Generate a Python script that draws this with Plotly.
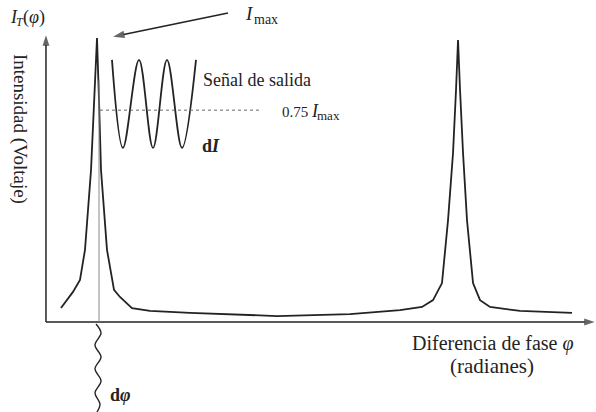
import plotly.graph_objects as go

# ---- data (phase in radians, intensity normalised to I_max) ----
phase = [-0.627, -0.418, -0.296, -0.209, -0.104, -0.052, 0.0, 0.035, 0.070, 0.174, 0.244,
         0.296, 0.400, 0.609, 0.922, 1.619, 3.133, 4.403, 5.273, 5.656, 5.848, 6.004,
         6.109, 6.196, 6.248, 6.283, 6.318, 6.370, 6.439, 6.544, 6.666, 6.840, 7.362, 8.267]
intensity = [0.049, 0.106, 0.148, 0.254, 0.535, 0.782, 1.0, 0.782, 0.535, 0.254, 0.165,
             0.113, 0.088, 0.049, 0.039, 0.032, 0.021, 0.028, 0.042, 0.053, 0.077, 0.137,
             0.359, 0.595, 0.817, 0.993, 0.817, 0.595, 0.359, 0.137, 0.077, 0.053, 0.039, 0.032]

# output signal (inset)
signal_x = [0.261, 0.452, 0.731, 0.975, 1.218, 1.479, 1.723]
signal_y = [0.923, 0.613, 0.923, 0.613, 0.923, 0.613, 0.923]

# phase jitter (d phi) drawn below the axis
jitter_x = [-0.017, 0.070, -0.035, 0.070, -0.035, 0.070, -0.035, 0.052, 0.0]
jitter_y = [-0.007, -0.039, -0.081, -0.123, -0.165, -0.208, -0.250, -0.289, -0.317]

level_075 = 0.746
level_x = [0.052, 2.872]
peak_line_x = [0.035, 0.035]
peak_line_y = [0.0, 0.85]

x_axis = [-0.888, 8.66]
y_axis = [0.0, 1.01]
imax_arrow_x = [2.280, 0.28]
imax_arrow_y = [1.088, 1.0045]
x_range = [-1.688, 8.684]
y_range = [-0.317, 1.134]

ink = "#232323"
serif = "Liberation Serif, DejaVu Serif, serif"


def arrow_line(xs, ys, width=1.5, size=11):
    return go.Scatter(x=xs, y=ys, mode="lines+markers",
                      line=dict(color=ink, width=width),
                      marker=dict(symbol=["circle", "arrow"], size=[0, size], color=ink,
                                  angleref="previous", line=dict(width=0)),
                      hoverinfo="skip")


fig = go.Figure()
fig.add_trace(arrow_line([x_axis[0], x_axis[1]], [0, 0]))
fig.add_trace(arrow_line([x_axis[0], x_axis[0]], [y_axis[0], y_axis[1]]))
fig.add_trace(arrow_line(imax_arrow_x, imax_arrow_y, width=1.6, size=12))
fig.add_trace(go.Scatter(x=phase, y=intensity, mode="lines",
                         line=dict(color=ink, width=1.8), hoverinfo="skip"))
fig.add_trace(go.Scatter(x=signal_x, y=signal_y, mode="lines",
                         line=dict(color=ink, width=1.8, shape="spline", smoothing=1.0),
                         hoverinfo="skip"))
fig.add_trace(go.Scatter(x=jitter_x, y=jitter_y, mode="lines",
                         line=dict(color=ink, width=1.4, shape="spline", smoothing=1.0),
                         hoverinfo="skip"))
fig.add_trace(go.Scatter(x=level_x, y=[level_075, level_075], mode="lines",
                         line=dict(color="#666666", width=1, dash="dot"), hoverinfo="skip"))
fig.add_trace(go.Scatter(x=peak_line_x, y=peak_line_y, mode="lines",
                         line=dict(color="#888888", width=1), hoverinfo="skip"))

annotations = [
    # I_max label (main letter + subscript as separate texts)
    dict(x=2.541, y=1.085, text="<i>I</i>", size=19, xanchor="left"),
    dict(x=2.697, y=1.066, text="max", size=14, xanchor="left"),
    # I_T(phi)
    dict(x=-1.549, y=1.074, text="<i>I</i>", size=18, xanchor="left"),
    dict(x=-1.438, y=1.056, text="<i>T</i>", size=12, xanchor="left"),
    dict(x=-1.316, y=1.074, text="(<i>φ</i>)", size=18, xanchor="left"),
    dict(x=-1.340, y=0.680, text="Intensidad (Voltaje)", size=19, textangle=90),
    dict(x=1.810, y=0.852, text="Señal de salida", size=18, xanchor="left"),
    # 0.75 I_max
    dict(x=3.185, y=0.741, text="0.75", size=15, xanchor="left"),
    dict(x=3.690, y=0.744, text="<i>I</i>", size=18, xanchor="left"),
    dict(x=3.796, y=0.727, text="max", size=13, xanchor="left"),
    dict(x=1.793, y=0.620, text="<b>d<i>I</i></b>", size=18, xanchor="left"),
    dict(x=6.892, y=-0.074, text="Diferencia de fase <i>φ</i>", size=20),
    dict(x=6.880, y=-0.155, text="(radianes)", size=21),
    dict(x=0.191, y=-0.257, text="<b>d<i>φ</i></b>", size=18, xanchor="left"),
]
ann_layout = []
for a in annotations:
    ann_layout.append(dict(x=a["x"], y=a["y"], xref="x", yref="y", showarrow=False,
                           text=a["text"], textangle=a.get("textangle", 0),
                           xanchor=a.get("xanchor", "center"),
                           font=dict(size=a["size"], family=serif, color=ink)))

fig.update_layout(
    width=596, height=412,
    margin=dict(l=0, r=0, t=0, b=0),
    paper_bgcolor="white", plot_bgcolor="white",
    showlegend=False,
    xaxis=dict(range=x_range, visible=False, fixedrange=True),
    yaxis=dict(range=y_range, visible=False, fixedrange=True),
    annotations=ann_layout,
)

fig.write_html("out.html", config={"displayModeBar": False},
               post_script="document.body.style.margin='0px';")
